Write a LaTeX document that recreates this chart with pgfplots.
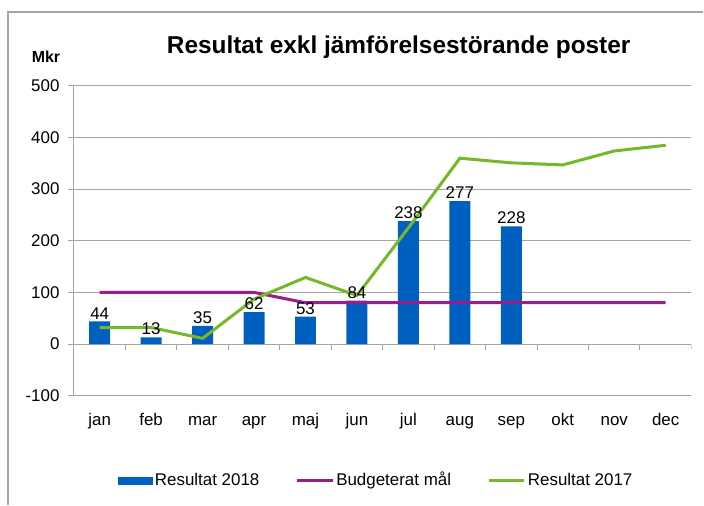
\documentclass[border=0pt]{standalone}
\usepackage{fontspec}
\setmainfont{Liberation Sans}
\usepackage{pgfplots}
\pgfplotsset{compat=1.18}
\definecolor{barblue}{RGB}{0,96,192}
\definecolor{budget}{RGB}{152,30,140}
\definecolor{res17}{RGB}{118,184,42}
\definecolor{gridgray}{RGB}{165,165,165}
\begin{document}
\begin{tikzpicture}
\path[fill=white] (0bp,0bp) rectangle (704bp,505bp);
\draw[gridgray, line width=1.2bp] (8bp,0bp) -- (8bp,493bp) -- (704bp,493bp);
\node[font=\bfseries\fontsize{24.5}{24.5}\selectfont] at (399bp,458bp) {Resultat exkl jämförelsestörande poster};
\node[font=\bfseries\fontsize{16}{16}\selectfont] at (46bp,448bp) {Mkr};
\begin{axis}[
  at={(74bp,109bp)}, anchor=south west,
  scale only axis, width=618bp, height=310bp,
  xmin=-0.5, xmax=11.5, ymin=-100, ymax=500,
  ytick={-100,0,...,500},
  xtick={0,...,11},
  xticklabels={jan,feb,mar,apr,maj,jun,jul,aug,sep,okt,nov,dec},
  axis lines*=left,
  axis line style={gridgray, line width=1bp},
  ymajorgrids, grid style={gridgray, line width=1bp},
  tick align=outside, major tick length=6bp,
  ytick style={gridgray, line width=1bp},
  xtick style={draw=none},
  ticklabel style={font=\fontsize{17}{17}\selectfont, text=black},
  /pgf/number format/assume math mode=true,
  yticklabel style={xshift=-5bp},
  xticklabel style={yshift=-8bp, text height=12.5bp, text depth=3.5bp},
  legend style={at={(0.4895,-0.274)}, anchor=center, draw=none, fill=none,
    font=\fontsize{17}{17}\selectfont, legend columns=3,
    nodes={inner xsep=2bp, text height=12.5bp, text depth=3.5bp},
    /tikz/every even column/.append style={column sep=34bp}},
  legend cell align=left,
]
\addplot[ybar, bar width=21bp, bar shift=0pt, fill=barblue, draw=none,
  nodes near coords,
  every node near coord/.style={font=\fontsize{17}{17}\selectfont, text=black, inner sep=2bp},
  legend image code/.code={\fill[barblue] (0bp,-4bp) rectangle (35bp,4bp);}]
  coordinates {(0,44)(1,13)(2,35)(3,62)(4,53)(5,84)(6,238)(7,277)(8,228)};
\addlegendentry{Resultat 2018}
\addplot[budget, line width=3bp, mark=none,
  legend image code/.code={\draw[budget, line width=3bp] (0bp,0bp) -- (36bp,0bp);}]
  coordinates {(0,100)(1,100)(2,100)(3,100)(4,80)(5,80)(6,80)(7,80)(8,80)(9,80)(10,80)(11,80)};
\addlegendentry{Budgeterat mål}
\addplot[res17, line width=3bp, mark=none,
  legend image code/.code={\draw[res17, line width=3bp] (0bp,0bp) -- (36bp,0bp);}]
  coordinates {(0,32)(1,32)(2,11)(3,87)(4,129)(5,94)(6,225)(7,360)(8,351)(9,347)(10,374)(11,385)};
\addlegendentry{Resultat 2017}
\pgfplotsinvokeforeach{0.5,1.5,...,11.5}{
  \draw[gridgray, line width=1bp] (axis cs:#1,0) -- ([yshift=-6bp]axis cs:#1,0);
}
\end{axis}
\end{tikzpicture}
\end{document}
